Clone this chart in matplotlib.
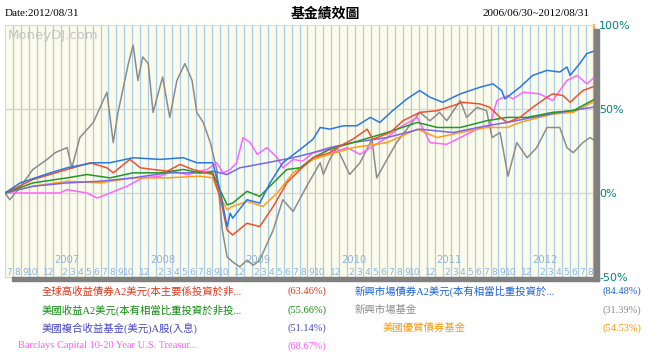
import matplotlib.pyplot as plt
from matplotlib.patches import Rectangle

# months since 2006/06/30, cumulative return in %
grey_t = [0, 0.6, 1.9, 3.5, 5.3, 6.3, 7.8, 8.4, 9.4, 11.1, 12.8, 13.6, 14.2, 15.5, 16.1, 16.7, 17.3, 18.0,
          18.6, 19.8, 20.7, 21.6, 22.6, 23.5, 24.1, 24.9, 25.8, 26.6, 27.3, 27.9, 28.6, 29.5, 30.4, 31.2,
          32.0, 33.7, 34.9, 36.2, 37.9, 39.6, 40.0, 40.8, 41.7, 43.3, 44.6, 46.1, 46.7, 48.0, 49.2, 50.5,
          52.1, 53.4, 54.6, 55.5, 57.2, 58.0, 59.3, 60.5, 61.2, 62.2, 63.2, 64.3, 65.6, 66.8, 68.1, 69.7,
          70.6, 71.4, 72.6, 73.5, 74]
grey_v = [0, -4, 3.5, 14, 20, 24, 27, 15, 33, 42, 60, 30, 48, 77, 88, 67, 81, 77,
          48, 69, 45, 67, 77, 67, 48, 42, 30, 14, -22, -38, -41, -44, -40, -43,
          -40, -22, -4, -11, 4, 18, 11, 20, 27, 11, 18, 32, 9, 20, 30, 38,
          48, 43, 48, 43, 55, 45, 51, 49, 33, 36, 10, 30, 21, 27, 39, 39,
          27, 24, 30, 33, 31.39]

blue_t = [0, 1.9, 5.7, 7.8, 11.1, 13.2, 16.1, 19.5, 22.4, 24.1, 26.1, 27.0, 27.9, 28.3, 28.6, 30.4, 32.0,
          33.3, 34.9, 37.1, 38.7, 39.6, 40.8, 42.5, 44.2, 45.9, 47.1, 48.7, 50.5, 52.1, 53.4, 55.0, 57.2,
          59.7, 61.3, 62.4, 62.8, 64.7, 66.3, 68.1, 69.7, 70.6, 71.0, 72.2, 73.1, 74]
blue_v = [0, 6, 12, 15, 18, 18, 21, 20, 21, 18, 18, 2, -20, -12, -15, -4, -6,
          6, 18, 26, 32, 39, 38, 40, 40, 45, 42, 49, 56, 61, 57, 54, 59,
          63, 65, 61, 56, 63, 70, 73, 72, 75, 70, 77, 83, 84.48]

red_t = [0, 3.5, 7.8, 10.7, 12.8, 13.6, 15.7, 17.0, 18.6, 20.4, 22.0, 23.6, 26.1, 27.0, 27.9, 28.6, 30.4,
         32.0, 33.7, 35.4, 37.1, 38.7, 40.8, 41.7, 43.7, 45.5, 46.2, 48.4, 50.0, 52.1, 54.3, 56.3, 57.5,
         59.7, 60.9, 62.2, 63.1, 64.7, 66.3, 68.1, 68.8, 70.1, 71.0, 72.6, 74]
red_v = [0, 8, 14, 18, 15, 12, 20, 15, 14, 13, 17, 14, 11, -2, -22, -25, -18,
         -20, -8, 6, 14, 21, 24, 27, 32, 38, 32, 36, 43, 48, 49, 52, 54,
         53, 51, 45, 42, 45, 51, 57, 59, 58, 54, 61, 63.46]

green_t = [0, 3.5, 7.8, 10.3, 13.2, 16.1, 19.5, 22.4, 24.5, 26.1, 27.0, 27.9, 28.6, 30.4, 32.0, 33.7,
           35.4, 37.1, 38.7, 40.8, 43.7, 48.0, 51.8, 54.3, 57.2, 60.5, 63.1, 65.6, 68.8, 71.4, 74]
green_v = [0, 6, 9, 11, 9, 12, 12, 14, 12, 12, 2, -7, -6, 1, -2, 6,
           14, 15, 21, 26, 30, 36, 42, 39, 39, 43, 45, 45, 48, 49, 55.66]

purple_t = [0, 3.5, 7.8, 11.9, 16.1, 20.4, 24.5, 26.1, 27.9, 29.5, 32.9, 36.2, 38.7, 40.8, 43.7, 48.0,
            52.1, 56.3, 60.5, 63.1, 66.3, 69.7, 74]
purple_v = [0, 4, 6, 7, 9, 12, 12, 13, 11, 15, 18, 21, 24, 27, 30, 33,
            38, 36, 40, 42, 45, 48, 51.14]

orange_t = [0, 3.5, 7.8, 11.9, 16.1, 20.4, 24.5, 26.1, 27.0, 27.9, 28.6, 30.4, 32.4, 34.2, 36.2, 38.7,
            40.8, 43.7, 48.0, 51.8, 54.3, 57.2, 60.5, 63.1, 64.7, 68.8, 71.4, 74]
orange_v = [0, 4, 7, 6, 9, 9, 10, 9, -2, -10, -8, -5, -8, 0, 12, 20,
            23, 27, 30, 38, 33, 36, 39, 39, 42, 47, 48, 54.53]

pink_t = [0, 6.9, 7.8, 10.3, 11.6, 13.2, 15.3, 17.3, 19.5, 21.1, 22.9, 25.4, 26.6, 27.4, 28.3, 29.1,
          29.9, 30.8, 31.7, 32.9, 34.2, 34.9, 36.2, 37.4, 38.7, 40.8, 41.2, 43.0, 44.6, 45.9, 48.0, 49.6,
          51.8, 53.4, 55.5, 57.2, 59.3, 60.9, 61.8, 63.1, 63.8, 65.1, 67.2, 68.8, 70.6, 71.9, 73.1, 74]
pink_v = [0, 0, 2, 0, -3, 0, 4, 9, 10, 13, 11, 14, 18, 12, 14, 18,
          33, 30, 23, 27, 21, 15, 20, 19, 24, 26, 24, 27, 23, 27, 33, 39,
          45, 30, 29, 33, 38, 40, 55, 58, 56, 60, 59, 55, 67, 70, 65, 68.67]

left_names = ['全球高收益債券A2美元(本主要係投資於非...', '美國收益A2美元(本有相當比重投資於非投...',
              '美國複合收益基金(美元)A股(入息)', 'Barclays Capital 10-20 Year U.S. Treasur...']
left_pct = ['(63.46%)', '(55.66%)', '(51.14%)', '(68.67%)']
left_colors = ['#e0361a', '#128a12', '#4646c4', '#ff5cff']
right_names = ['新興市場債券A2美元(本有相當比重投資於...', '新興市場基金', '美國優質債券基金']
right_pct = ['(84.48%)', '(31.39%)', '(54.53%)']
right_colors = ['#1a62d6', '#8a8a8a', '#ff9900']

first_month = 7  # July 2006
n_months = 74
years = [2007, 2008, 2009, 2010, 2011, 2012]

W, H = 651, 358


def fx(x):
    return x / W


def fy(y):
    return 1 - y / H


fig = plt.figure(figsize=(W / 100, H / 100), dpi=100)
fig.patch.set_facecolor('white')

# shadow behind the plot
fig.patches.append(Rectangle((fx(594), fy(281)), 5 / W, 252 / H, transform=fig.transFigure,
                             color='#808080', zorder=0))
fig.patches.append(Rectangle((fx(12), fy(281)), 587 / W, 4 / H, transform=fig.transFigure,
                             color='#808080', zorder=0))

ax = fig.add_axes([fx(5), fy(277), 589 / W, 252 / H])
ax.set_facecolor('#fcfbe9')
ax.set_xlim(0, n_months)
ax.set_ylim(-50, 100)

for i in range(1, n_months):
    ax.axvline(i, color='#a8cdef', lw=0.9, zorder=1)
for yv in (0, 50):
    ax.axhline(yv, color='#d6d6d0', lw=0.9, zorder=1)

ax.plot(grey_t, grey_v, color='#8c8c8c', lw=1.1, zorder=3)
ax.plot(pink_t, pink_v, color='#ff66ff', lw=1.1, zorder=3)
ax.plot(orange_t, orange_v, color='#ff9d1a', lw=1.1, zorder=3)
ax.plot(purple_t, purple_v, color='#7a66e6', lw=1.1, zorder=3)
ax.plot(green_t, green_v, color='#229922', lw=1.1, zorder=3)
ax.plot(red_t, red_v, color='#ee5030', lw=1.1, zorder=3)
ax.plot(blue_t, blue_v, color='#2a78e0', lw=1.1, zorder=3)

# month / year labels inside the plot
for i in range(n_months):
    m = (first_month - 1 + i) % 12 + 1
    if m in (1, 11):
        continue
    ax.text(i + 0.5, -47.3, str(m), ha='center', va='center', fontsize=6.6,
            color='#8fb4da', family='DejaVu Sans Condensed', zorder=2)
for k, yr in enumerate(years):
    ax.text(6 + 12 * k + 0.2, -39.8, str(yr), ha='left', va='center', fontsize=7.2,
            color='#8fb4da', family='DejaVu Sans Condensed', zorder=2)

ax.text(0.005, 0.985, 'MoneyDJ.com', transform=ax.transAxes, ha='left', va='top',
        fontsize=9.5, color='#c4c4c4', zorder=2)

ax.set_xticks([])
ax.set_yticks([])
for s in ('top', 'left', 'bottom'):
    ax.spines[s].set_color('#c8dcf0')
    ax.spines[s].set_linewidth(0.8)
ax.spines['right'].set_color('#f2a64a')
ax.spines['right'].set_linewidth(1.6)

# right axis labels
for yv in (100, 50, 0, -50):
    y_px = 194 - yv * 1.68
    fig.text(fx(599), fy(y_px), f'{yv}%', ha='left', va='center', fontsize=8,
             color='#008080', family='DejaVu Sans')

# header
serif = ['Liberation Serif', 'Noto Sans CJK TC']
fig.text(fx(5), fy(14), 'Date:2012/08/31', ha='left', va='center', fontsize=8, family=serif)
fig.text(fx(590), fy(14), '2006/06/30~2012/08/31', ha='right', va='center', fontsize=8, family=serif)
fig.text(fx(325), fy(14), '基金績效圖', ha='center', va='center', fontsize=10,
         fontweight='bold', family=['Noto Sans CJK TC', 'DejaVu Sans'])

# legend rows
rows_y = [291, 310, 328, 346]
left_x = [42, 42, 42, 18]
right_x = [355, 355, 383]
for i in range(len(left_names)):
    fig.text(fx(left_x[i]), fy(rows_y[i]), left_names[i], ha='left', va='center', fontsize=7.5,
             color=left_colors[i], family=serif)
    fig.text(fx(326), fy(rows_y[i]), left_pct[i], ha='right', va='center', fontsize=7.5,
             color=left_colors[i], family=serif)
for i in range(len(right_names)):
    fig.text(fx(right_x[i]), fy(rows_y[i]), right_names[i], ha='left', va='center', fontsize=7.5,
             color=right_colors[i], family=serif)
    fig.text(fx(641), fy(rows_y[i]), right_pct[i], ha='right', va='center', fontsize=7.5,
             color=right_colors[i], family=serif)

fig.savefig('out.png', dpi=100)
